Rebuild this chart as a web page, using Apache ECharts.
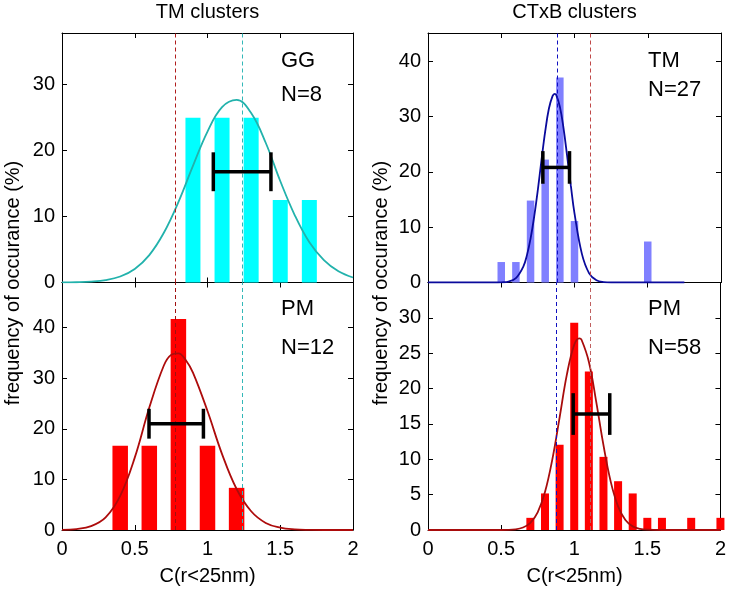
<!DOCTYPE html>
<html><head><meta charset="utf-8">
<script src="https://cdn.jsdelivr.net/npm/echarts@6/dist/echarts.min.js"></script>
<style>html,body{margin:0;padding:0;background:#fff}#c{width:729px;height:589px}</style>
</head><body><div id="c"></div>
<script>
// ---------- data ----------
const columnTitles = ['TM clusters', 'CTxB clusters'];
const xAxisTitle = 'C(r<25nm)';
const yAxisTitle = 'frequency of occurance (%)';
const panelNames = ['GG', 'PM', 'TM', 'PM'];
const panelCounts = [8, 12, 27, 58];

// histogram bars (bin centre, % of clusters)
const ggX = [0.9, 1.1, 1.3, 1.5, 1.7];
const ggY = [25, 25, 25, 12.5, 12.5];
const tmPmX = [0.4, 0.6, 0.8, 1.0, 1.2];
const tmPmY = [16.67, 16.67, 41.67, 16.67, 8.33];
const ctTmX = [0.5, 0.6, 0.7, 0.8, 0.9, 1.0, 1.5];
const ctTmY = [3.70, 3.70, 14.81, 22.22, 37.04, 11.11, 7.41];
const ctPmX = [0.7, 0.8, 0.9, 1.0, 1.1, 1.2, 1.3, 1.4, 1.5, 1.6, 1.8, 2.0];
const ctPmY = [1.72, 5.17, 12.07, 29.31, 22.41, 10.34, 6.90, 5.17, 1.72, 1.72, 1.72, 1.72];

// fitted curves
const ggFitX = [0, 0.1, 0.2, 0.3, 0.4, 0.5, 0.6, 0.7, 0.8, 0.9, 1.0, 1.1, 1.2, 1.3, 1.4, 1.5, 1.6, 1.7, 1.8, 1.9, 2.0];
const ggFitY = [0.01, 0.04, 0.13, 0.36, 0.91, 2.06, 4.16, 7.54, 12.2, 17.7, 22.9, 26.6, 27.7, 25.7, 21.2, 15.4, 10.2, 6.1, 3.4, 1.7, 0.76];
const tmPmFitX = [0, 0.1, 0.2, 0.3, 0.4, 0.5, 0.6, 0.7, 0.75, 0.8, 0.85, 0.9, 1.0, 1.1, 1.2, 1.3, 1.4, 1.5, 1.6, 1.7, 1.8, 1.9, 2.0];
const tmPmFitY = [0.03, 0.18, 0.76, 2.5, 6.75, 14.3, 24.2, 32.5, 34.6, 34.9, 33.6, 31.1, 23.5, 15.0, 8.1, 3.7, 1.4, 0.47, 0.13, 0.03, 0, 0, 0];
const ctTmFitX = [0, 0.3, 0.45, 0.5, 0.55, 0.6, 0.65, 0.675, 0.7, 0.725, 0.75, 0.775, 0.8, 0.825, 0.85, 0.865, 0.875, 0.9, 0.925, 0.95, 0.975, 1.0, 1.05, 1.1, 1.15, 1.2, 1.25, 1.75];
const ctTmFitY = [0, 0, 0, 0.03, 0.16, 0.78, 2.84, 4.9, 7.93, 11.96, 16.8, 22.2, 27.3, 31.4, 33.7, 34.1, 33.9, 31.8, 27.9, 22.8, 17.5, 12.5, 5.22, 1.66, 0.4, 0.07, 0, 0];
const ctPmFitX = [0, 0.5, 0.6, 0.65, 0.7, 0.75, 0.8, 0.85, 0.9, 0.95, 1.0, 1.035, 1.05, 1.1, 1.15, 1.2, 1.25, 1.3, 1.35, 1.4, 1.45, 1.5, 1.6, 2.0];
const ctPmFitY = [0, 0, 0.10, 0.35, 1.0, 2.49, 5.36, 9.96, 15.9, 22.0, 26.2, 27.1, 26.9, 23.8, 18.2, 12.0, 6.81, 3.34, 1.41, 0.51, 0.16, 0.04, 0, 0];

// mean markers (dashed) and error bars [centre, half width, height]
const tmMeans = [0.784, 1.239];      // PM (red), GG (cyan)
const ctMeans = [0.875, 1.114];      // TM (blue), PM (red)
const errGG = [1.238, 0.198, 16.8];
const errTmPm = [0.785, 0.187, 21.0];
const errCtTm = [0.875, 0.091, 20.8];
const errCtPm = [1.118, 0.125, 16.4];
const capHalf = 2.95;

// y-axis ranges and tick steps
const yMax = [37.85, 48.9, 45.1, 35.0];
const yStep = [10, 10, 10, 5];

// ---------- chart ----------
const FONT = '"Liberation Sans", Arial, Helvetica, sans-serif';
const panels = [
  {grid: {left: 62, top: 33, width: 291, height: 249.5}, showX: false, bx: ggX, by: ggY, bc: '#00ffff', bw: 15,
   fx: ggFitX, fy: ggFitY, fc: '#22b2ac', err: errGG, means: [[tmMeans[0], '#b01c1c'], [tmMeans[1], '#33b8b8']]},
  {grid: {left: 62, top: 282.5, width: 291, height: 247.5}, showX: true, bx: tmPmX, by: tmPmY, bc: '#ff0000', bw: 15.5,
   fx: tmPmFitX, fy: tmPmFitY, fc: '#ad0b0b', err: errTmPm, means: [[tmMeans[0], '#a01010'], [tmMeans[1], '#33b8b8']]},
  {grid: {left: 428, top: 33, width: 293, height: 249.5}, showX: false, bx: ctTmX, by: ctTmY, bc: '#8080ff', bw: 7.5,
   fx: ctTmFitX, fy: ctTmFitY, fc: '#0a0a9c', err: errCtTm, means: [[ctMeans[0], '#1010c0'], [ctMeans[1], '#c04848']]},
  {grid: {left: 428, top: 282.5, width: 293, height: 247.5}, showX: true, bx: ctPmX, by: ctPmY, bc: '#ff0000', bw: 8,
   fx: ctPmFitX, fy: ctPmFitY, fc: '#a80c0c', err: errCtPm, means: [[ctMeans[0], '#1010c0'], [ctMeans[1], '#c06060']]}
];

const grid = [], xAxis = [], yAxis = [], series = [];
const lineCol = '#000';
panels.forEach((p, i) => {
  grid.push(p.grid);
  const common = {gridIndex: i, type: 'value', splitLine: {show: false},
    axisLine: {show: true, onZero: false, lineStyle: {color: lineCol, width: 1}},
    axisTick: {show: true, inside: true, length: 5, lineStyle: {color: lineCol}}};
  xAxis.push(Object.assign({}, common, {position: 'bottom', min: 0, max: 2, interval: 0.5,
    axisLabel: {show: p.showX, fontSize: 20, color: '#000', fontFamily: FONT, margin: 9}}));
  xAxis.push(Object.assign({}, common, {position: 'top', min: 0, max: 2, interval: 0.5, axisLabel: {show: false}}));
  yAxis.push(Object.assign({}, common, {position: 'left', min: 0, max: yMax[i], interval: yStep[i],
    axisLabel: {show: true, fontSize: 20, color: '#000', fontFamily: FONT, margin: 7, showMaxLabel: false}}));
  yAxis.push(Object.assign({}, common, {position: 'right', min: 0, max: yMax[i], interval: yStep[i], axisLabel: {show: false}}));

  series.push({type: 'bar', xAxisIndex: 2 * i, yAxisIndex: 2 * i, clip: true, barWidth: p.bw, z: 2,
    itemStyle: {color: p.bc}, data: p.bx.map((x, k) => [x, p.by[k]])});
  series.push({type: 'line', xAxisIndex: 2 * i, yAxisIndex: 2 * i, smooth: 0.4,
    symbol: 'none', showSymbol: false, z: 3, lineStyle: {color: p.fc, width: 1.8},
    data: p.fx.map((x, k) => [x, p.fy[k]]),
    markLine: {silent: true, symbol: ['none', 'none'], label: {show: false}, animation: false,
      data: p.means.map(m => ({xAxis: m[0], lineStyle: {color: m[1], type: [4, 3], width: 1}}))}});
  series.push({type: 'custom', xAxisIndex: 2 * i, yAxisIndex: 2 * i, z: 5, clip: false,
    encode: {x: 0, y: 2}, data: [p.err],
    renderItem: function (params, api) {
      const c = api.value(0), h = api.value(1), y = api.value(2);
      const a = api.coord([c - h, y]), b = api.coord([c + h, y]);
      const a1 = api.coord([c - h, y + capHalf]), a2 = api.coord([c - h, y - capHalf]);
      const b1 = api.coord([c + h, y + capHalf]), b2 = api.coord([c + h, y - capHalf]);
      const st = {stroke: '#000', lineWidth: 3.5, lineCap: 'butt'};
      return {type: 'group', children: [
        {type: 'line', shape: {x1: a[0], y1: a[1], x2: b[0], y2: b[1]}, style: st},
        {type: 'line', shape: {x1: a1[0], y1: a1[1], x2: a2[0], y2: a2[1]}, style: st},
        {type: 'line', shape: {x1: b1[0], y1: b1[1], x2: b2[0], y2: b2[1]}, style: st}
      ]};
    }});
});

function txt(x, y, s, size, align, rot) {
  return {type: 'text', x: x, y: y, rotation: rot || 0, z: 10,
    style: {text: s, font: size + 'px ' + FONT, fill: '#000', align: align || 'center', verticalAlign: 'middle'}};
}
const graphic = [
  txt(207.5, 12, columnTitles[0], 20),
  txt(574.5, 12, columnTitles[1], 20),
  txt(207.5, 576, xAxisTitle, 20),
  txt(574.5, 576, xAxisTitle, 20),
  txt(13, 283, yAxisTitle, 20, 'center', Math.PI / 2),
  txt(381, 283, yAxisTitle, 20, 'center', Math.PI / 2),
  txt(281, 61, panelNames[0], 22, 'left'),
  txt(281, 95, 'N=' + panelCounts[0], 22, 'left'),
  txt(281, 309, panelNames[1], 22, 'left'),
  txt(281, 347.5, 'N=' + panelCounts[1], 22, 'left'),
  txt(648, 61, panelNames[2], 22, 'left'),
  txt(648, 89.5, 'N=' + panelCounts[2], 22, 'left'),
  txt(648, 309, panelNames[3], 22, 'left'),
  txt(648, 347.5, 'N=' + panelCounts[3], 22, 'left')
];

const chart = echarts.init(document.getElementById('c'), null, {renderer: 'canvas'});
chart.setOption({animation: false, backgroundColor: '#fff', grid, xAxis, yAxis, series, graphic});
</script></body></html>
